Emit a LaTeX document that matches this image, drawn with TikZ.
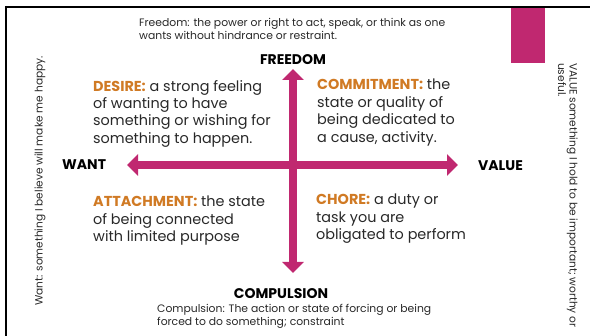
\documentclass[tikz,border=0pt]{standalone}
\usepackage{fontspec}
\setsansfont{Poppins}
\usepackage{xcolor}
\usetikzlibrary{arrows.meta}
\definecolor{magentabar}{RGB}{192,40,112}
\definecolor{keyorange}{RGB}{208,122,36}
\definecolor{textgrey}{RGB}{40,40,40}
\tikzset{>=latex}

\begin{document}
\begin{tikzpicture}[x=1pt, y=-1pt, font=\sffamily,
    bigarrow/.style={magentabar, line width=8pt, {Triangle[width=21pt,length=11pt]}-{Triangle[width=21pt,length=11pt]}},
    axislabel/.style={font=\sffamily\bfseries\fontsize{14}{16}\selectfont, inner sep=0pt},
    quadtext/.style={font=\sffamily\fontsize{14.4}{17.4}\selectfont, text=textgrey, align=left, anchor=north west, inner sep=0pt},
    smalltext/.style={font=\sffamily\fontsize{10.8}{12.6}\selectfont, text=textgrey, align=left, anchor=north west, inner sep=0pt},
    sidetext/.style={font=\sffamily\fontsize{10.6}{11.5}\selectfont, text=textgrey, align=left, inner sep=0pt}]
    \useasboundingbox (0,0) rectangle (590,336);

    % Coordinates
    \coordinate (top) at (293,69);
    \coordinate (bottom) at (293,273);
    \coordinate (left) at (127,165);
    \coordinate (right) at (458,165);

    % Frame
    \draw[line width=2.5pt] (5,7) -- (590,7);
    \draw[line width=2.5pt] (6,6) -- (6,336);
    % Bar
    \fill[magentabar] (511,8) rectangle (545,63);

    % Arrows
    \draw[bigarrow] (top) -- (bottom);
    \draw[bigarrow] (left) -- (right);

    % Axis labels
    \node[axislabel] (freedom) at (293,60) {FREEDOM};
    \node[axislabel] (compulsion) at (281,294) {COMPULSION};
    \node[axislabel, anchor=west] (want) at (62,165) {WANT};
    \node[axislabel, anchor=west] (value) at (478,166) {VALUE};

    % Definitions
    \node[smalltext] (freedomdef) at (139,18) {Freedom: the power or right to act, speak, or think as one\\wants without hindrance or restraint.};
    \node[smalltext] (compulsiondef) at (157,304) {Compulsion: The action or state of forcing or being\\forced to do something; constraint};

    % Quadrants
    \node[quadtext] (desire) at (93,80) {\textcolor{keyorange}{\textbf{DESIRE:}} a strong feeling\\of wanting to have\\something or wishing for\\something to happen.};
    \node[quadtext] (commitment) at (317,79) {\textcolor{keyorange}{\textbf{COMMITMENT:}} the\\state or quality of\\being dedicated to\\a cause, activity.};
    \node[quadtext] (attachment) at (93,196) {\textcolor{keyorange}{\textbf{ATTACHMENT:}} the state\\of being connected\\with limited purpose};
    \node[quadtext] (chore) at (316,194) {\textcolor{keyorange}{\textbf{CHORE:}} a duty or\\task you are\\obligated to perform};

    % Side texts
    \node[sidetext, rotate=90] (wantdef) at (40,181) {Want: something I believe will make me happy.};
    \node[sidetext, rotate=-90, anchor=north west] (valuedef) at (578,63) {VALUE something I hold to be important; worthy or\\useful.};
\end{tikzpicture}
\end{document}
